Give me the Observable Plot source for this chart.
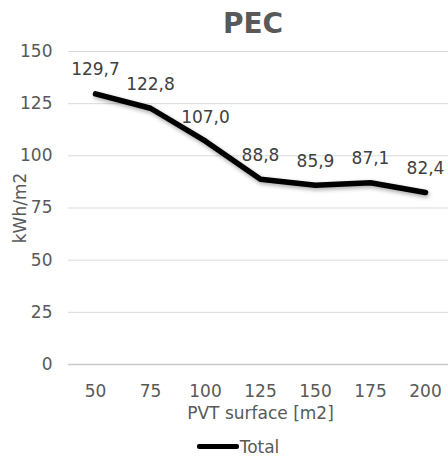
<!DOCTYPE html>
<html>
<head>
<meta charset="utf-8">
<script src="https://cdn.jsdelivr.net/npm/d3@7"></script>
<script src="https://cdn.jsdelivr.net/npm/@observablehq/plot@0.6"></script>
<style>
  html, body { margin: 0; padding: 0; background: #fff; }
  body { width: 448px; height: 458px; overflow: hidden; font-family: "DejaVu Sans", Verdana, sans-serif; color: #595959; }
  #title { height: 44px; line-height: 48px; text-align: center; font-weight: bold; font-size: 28px; padding-left: 58px; box-sizing: border-box; }
  #legend { height: 30px; display: flex; align-items: center; justify-content: center; font-size: 17px; padding-left: 28px; padding-top: 7px; box-sizing: border-box; }
  #legend .sw { width: 42px; height: 5px; background: #000; border-radius: 2px; margin-right: 1px; }
  svg g[aria-label="line"] path { filter: drop-shadow(1px 2px 2px rgba(0,0,0,0.35)); }
</style>
</head>
<body>
<div id="title">PEC</div>
<div id="chart"></div>
<div id="legend"><span class="sw"></span><span>Total</span></div>
<script>
const surfaces = ["50", "75", "100", "125", "150", "175", "200"];
const total = [129.7, 122.8, 107.0, 88.8, 85.9, 87.1, 82.4];
const yTicks = [0, 25, 50, 75, 100, 125, 150];

const data = surfaces.map((s, i) => ({surface: s, value: total[i], label: total[i].toFixed(1).replace(".", ",")}));

const chart = Plot.plot({
  width: 448,
  height: 384,
  marginLeft: 68,
  marginRight: 0,
  marginTop: 7,
  marginBottom: 64,
  style: {fontFamily: "DejaVu Sans, Verdana, sans-serif", fontSize: "17px", color: "#595959", overflow: "visible"},
  x: {type: "point", domain: surfaces, range: [95, 425], padding: 0},
  y: {domain: [0, 150]},
  marks: [
    Plot.ruleY(yTicks, {stroke: "#d9d9d9", strokeWidth: 1}),
    Plot.ruleY([0], {stroke: "#c8c8c8", strokeWidth: 1.5}),
    Plot.axisY({ticks: yTicks, tickSize: 0, tickPadding: 16, label: null, fontSize: 17}),
    Plot.axisX({tickSize: 0, tickPadding: 20, label: null, fontSize: 17}),
    Plot.text(["kWh/m2"], {frameAnchor: "left", rotate: -90, dx: -48, textAnchor: "middle", lineAnchor: "middle", fontSize: 17, fill: "#595959"}),
    Plot.text(["PVT surface [m2]"], {frameAnchor: "bottom", dy: 49, dx: 2, textAnchor: "middle", lineAnchor: "middle", fontSize: 17, fill: "#595959"}),
    Plot.line(data, {x: "surface", y: "value", stroke: "#000", strokeWidth: 5.5, strokeLinecap: "round", strokeLinejoin: "round"}),
    Plot.text(data, {x: "surface", y: "value", text: "label", dy: -24, lineAnchor: "middle", fontSize: 17, fill: "#404040"})
  ]
});
document.getElementById("chart").appendChild(chart);
</script>
</body>
</html>
